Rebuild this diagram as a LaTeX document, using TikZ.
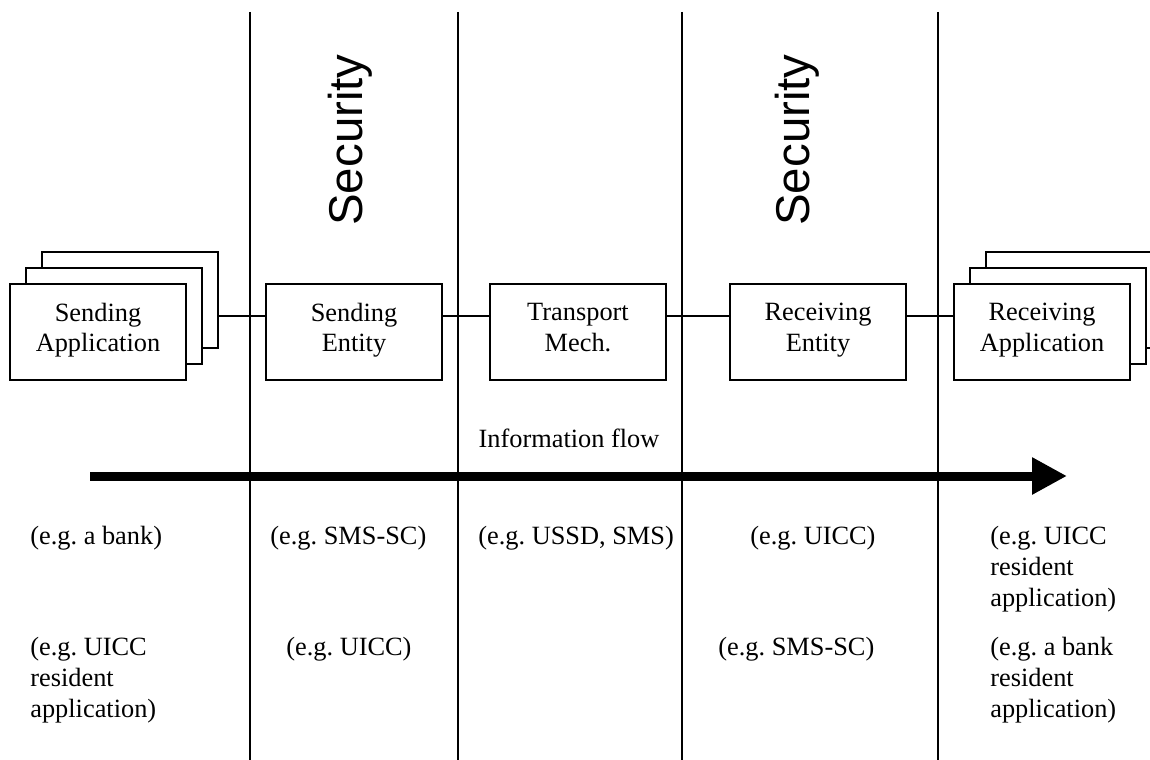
\documentclass[tikz,border=0pt]{standalone}
\usepackage{fontspec}
\setmainfont{Liberation Serif}
\setsansfont{Liberation Sans}
\usepackage{tikz}
\usetikzlibrary{arrows.meta, positioning, calc}
\frenchspacing
\tikzset{
  entity/.style={draw, line width=0.8pt, fill=white, minimum width=3.52cm,
                 minimum height=1.92cm, inner sep=0pt, align=center,
                 font=\fontsize{15}{17.6}\selectfont,
                 execute at begin node=\strut, execute at end node=\strut},
  stackbox/.style={draw, line width=0.8pt, fill=white, minimum width=3.52cm,
                   minimum height=1.92cm, inner sep=0pt},
  link/.style={line width=0.8pt},
  lane/.style={line width=0.8pt},
  flow/.style={line width=0.18cm, -{Triangle[length=0.7cm, width=0.7cm]}},
  example/.style={anchor=north west, inner sep=0pt, align=left,
                  font=\fontsize{15}{17.6}\selectfont},
  zone/.style={rotate=90, font=\fontsize{27}{30}\sffamily},
}

\begin{document}
\begin{tikzpicture}[x=0.02cm, y=-0.02cm]
  \clip (0,0) rectangle (1150,760);

  % lanes
  \foreach \lx in {250, 458, 682, 938}
    \draw[lane] (\lx,12) -- (\lx,760);

  \node[zone] (sec1) at (350,140) {Security};
  \node[zone] (sec2) at (797,140) {Security};

  % sending application (stacked)
  \node[stackbox] (sapp3) at (130,300) {};
  \node[stackbox] (sapp2) at (114,316) {};
  \node[entity] (sapp) at (98,332) {Sending\\Application};

  \node[entity] (sent) at (354,332) {Sending\\Entity};
  \node[entity] (trans) at (578,332) {Transport\\Mech.};
  \node[entity] (rent) at (818,332) {Receiving\\Entity};

  % receiving application (stacked)
  \node[stackbox] (rapp3) at (1074,300) {};
  \node[stackbox] (rapp2) at (1058,316) {};
  \node[entity] (rapp) at (1042,332) {Receiving\\Application};

  \draw[link] (sapp3.east |- sapp2) -- (sent.west |- sapp2);
  \draw[link] (sent.east |- sapp2) -- (trans.west |- sapp2);
  \draw[link] (trans.east |- sapp2) -- (rent.west |- sapp2);
  \draw[link] (rent.east |- sapp2) -- (rapp.west |- sapp2);

  % information flow
  \coordinate (flowstart) at (90,476);
  \coordinate (flowend) at (1067,476);
  \draw[flow] (flowstart) -- (flowend);
  \node[font=\fontsize{15}{17.6}\selectfont] (flowlbl) at (569,438) {Information flow};

  % examples
  \node[example] (ex1) at (30,526) {(e.g. a bank)};
  \node[example] (ex2) at (270,526) {(e.g. SMS-SC)};
  \node[example] (ex3) at (478,526) {(e.g. USSD, SMS)};
  \node[example] (ex4) at (750,526) {(e.g. UICC)};
  \node[example] (ex5) at (990,526) {(e.g. UICC\\resident\\application)};

  \node[example] (ex6) at (30,637) {(e.g. UICC\\resident\\application)};
  \node[example] (ex7) at (286,637) {(e.g. UICC)};
  \node[example] (ex8) at (718,637) {(e.g. SMS-SC)};
  \node[example] (ex9) at (990,637) {(e.g. a bank\\resident\\application)};

\end{tikzpicture}
\end{document}
